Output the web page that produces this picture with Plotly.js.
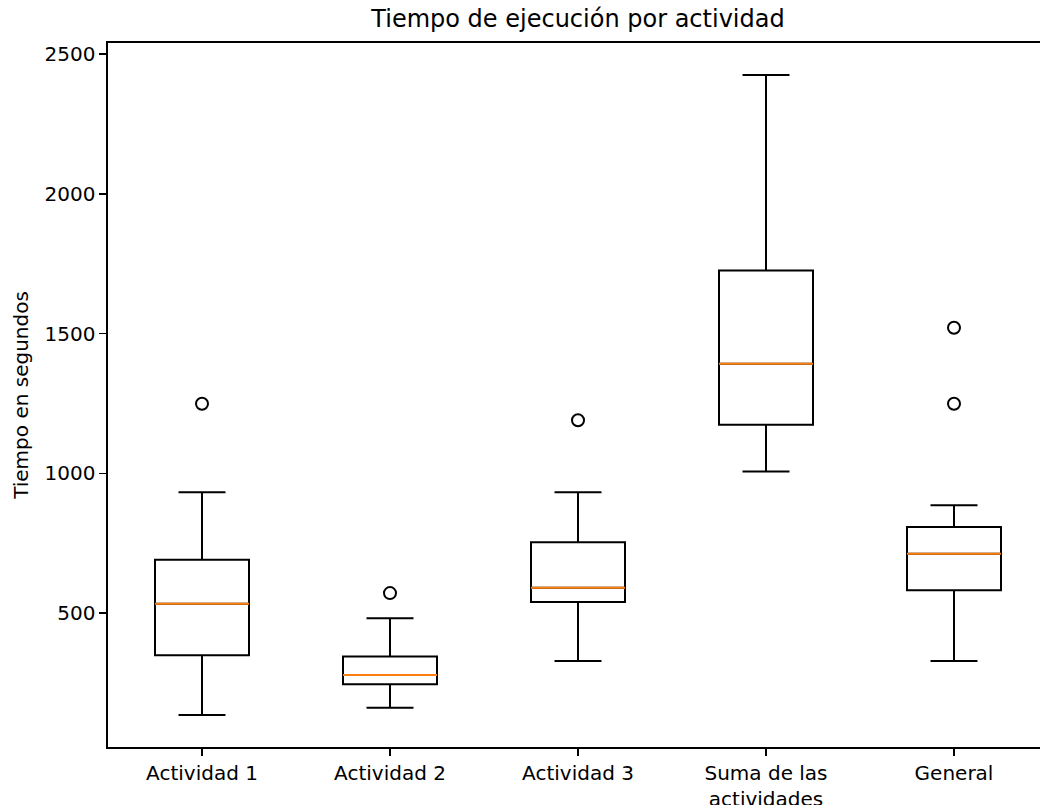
<!DOCTYPE html>
<html>
<head>
<meta charset="utf-8">
<script src="https://cdn.plot.ly/plotly-3.0.1.min.js"></script>
<style>
  html, body { margin: 0; padding: 0; background: #ffffff; overflow: hidden; }
  #chart { width: 1060px; height: 805px; }
</style>
</head>
<body>
<div id="chart"></div>
<script>
// Execution time per activity (seconds), summarised as box statistics
const categories = ["Actividad 1", "Actividad 2", "Actividad 3", "Suma de las<br>actividades", "General"];
const positions = [1, 2, 3, 4, 5];
const lowerWhisker = [136, 162, 329, 1007, 329];
const q1Values = [350, 246, 540, 1174, 582];
const medianValues = [534, 279, 591, 1392, 713];
const q3Values = [691, 345, 754, 1726, 808];
const upperWhisker = [933, 482, 933, 2425, 886];
const outlierValues = [[1249], [572], [1190], [], [1249, 1521]];

const boxWidth = 0.5;

// Box bodies and whiskers
const boxTrace = {
  type: "box",
  x: positions,
  q1: q1Values,
  median: medianValues,
  q3: q3Values,
  lowerfence: lowerWhisker,
  upperfence: upperWhisker,
  width: boxWidth,
  whiskerwidth: 0.5,
  boxpoints: false,
  line: { color: "#000000", width: 2 },
  fillcolor: "rgba(0,0,0,0)",
  hoverinfo: "skip",
  showlegend: false
};

// Median segments drawn across each box
const medX = [], medY = [];
positions.forEach((p, i) => {
  medX.push(p - boxWidth / 2, p + boxWidth / 2, null);
  medY.push(medianValues[i], medianValues[i], null);
});
const medianTrace = {
  type: "scatter",
  mode: "lines",
  x: medX,
  y: medY,
  line: { color: "#ff7f0e", width: 2 },
  hoverinfo: "skip",
  showlegend: false
};

// Outliers as open circles
const outX = [], outY = [];
outlierValues.forEach((vals, i) => {
  vals.forEach(v => { outX.push(positions[i]); outY.push(v); });
});
const outlierTrace = {
  type: "scatter",
  mode: "markers",
  x: outX,
  y: outY,
  marker: { symbol: "circle-open", size: 12, color: "#000000", line: { width: 2, color: "#000000" } },
  hoverinfo: "skip",
  showlegend: false
};

// Value range with 5% padding, like the default autoscaling of a box plot
const allValues = lowerWhisker.concat(upperWhisker, outY);
const lo = Math.min(...allValues), hi = Math.max(...allValues);
const pad = 0.05 * (hi - lo);

const axisFont = { family: "DejaVu Sans, sans-serif", size: 20, color: "#000000" };

const layout = {
  width: 1060,
  height: 805,
  margin: { l: 108, r: 12, t: 43, b: 58 },
  paper_bgcolor: "#ffffff",
  plot_bgcolor: "#ffffff",
  font: axisFont,
  title: {
    text: "Tiempo de ejecución por actividad",
    font: { family: "DejaVu Sans, sans-serif", size: 24, color: "#000000" },
    x: 0.5, xref: "paper", xanchor: "center",
    y: 1 - 19 / 805, yref: "container", yanchor: "middle"
  },
  xaxis: {
    range: [0.5, 5.5],
    tickmode: "array",
    tickvals: positions,
    ticktext: categories,
    ticks: "outside",
    ticklen: 7,
    tickwidth: 1.6,
    tickcolor: "#000000",
    tickfont: axisFont,
    showline: true,
    linecolor: "#000000",
    linewidth: 1.6,
    mirror: true,
    showgrid: false,
    zeroline: false,
    automargin: false
  },
  yaxis: {
    range: [lo - pad, hi + pad],
    tickmode: "linear",
    tick0: 0,
    dtick: 500,
    ticks: "outside",
    ticklen: 7,
    tickwidth: 1.6,
    tickcolor: "#000000",
    tickfont: axisFont,
    showline: true,
    linecolor: "#000000",
    linewidth: 1.6,
    mirror: true,
    showgrid: false,
    zeroline: false,
    automargin: false,
    title: {
      text: "Tiempo en segundos",
      font: axisFont,
      standoff: 10
    }
  }
};

Plotly.newPlot("chart", [boxTrace, medianTrace, outlierTrace], layout, { displayModeBar: false, staticPlot: true });
</script>
</body>
</html>
